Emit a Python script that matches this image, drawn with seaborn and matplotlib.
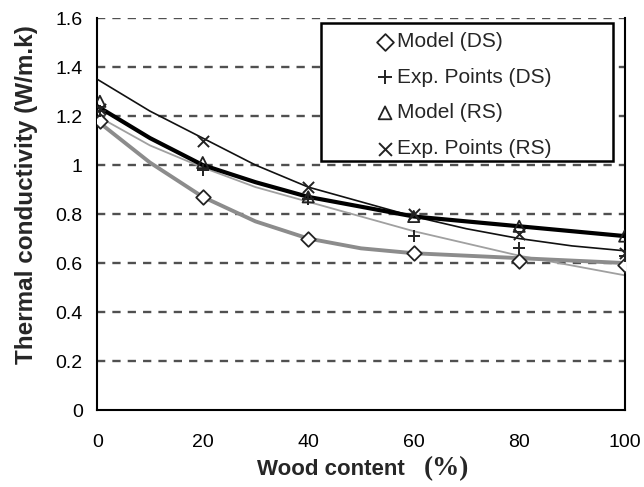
import matplotlib
matplotlib.use("Agg")
import matplotlib.pyplot as plt
import seaborn as sns
import pandas as pd
from matplotlib.ticker import MultipleLocator
from matplotlib.patches import Rectangle

# ---- data ----
pts_x = [0.5, 20, 40, 60, 80, 100]
model_ds_pts = [1.18, 0.87, 0.70, 0.64, 0.61, 0.59]
exp_ds_pts = [1.22, 0.98, 0.86, 0.71, 0.66, 0.63]
model_rs_pts = [1.26, 1.01, 0.87, 0.79, 0.75, 0.71]
exp_rs_pts = [1.23, 1.10, 0.91, 0.80, 0.72, 0.64]

curve_x = [0, 10, 20, 30, 40, 50, 60, 70, 80, 90, 100]
model_ds_curve = [1.18, 1.01, 0.87, 0.77, 0.70, 0.66, 0.64, 0.63, 0.62, 0.61, 0.60]
model_rs_curve = [1.24, 1.11, 1.00, 0.93, 0.87, 0.83, 0.79, 0.77, 0.75, 0.73, 0.71]
trend_rs_curve = [1.35, 1.22, 1.11, 1.00, 0.91, 0.85, 0.79, 0.74, 0.70, 0.67, 0.65]
trend_ds_curve = [1.20, 1.08, 0.99, 0.91, 0.85, 0.79, 0.73, 0.68, 0.63, 0.59, 0.55]

legend_labels = ["Model (DS)", "Exp. Points (DS)", "Model (RS)", "Exp. Points (RS)"]
yticks = [0, 0.2, 0.4, 0.6, 0.8, 1, 1.2, 1.4, 1.6]
ytick_labels = ["0", "0.2", "0.4", "0.6", "0.8", "1", "1.2", "1.4", "1.6"]
xticks = [0, 20, 40, 60, 80, 100]

sns.set_style("white")
plt.rcParams["font.family"] = ["Liberation Sans", "DejaVu Sans"]

fig = plt.figure(figsize=(6.44, 4.87), dpi=100)
ax = fig.add_axes([0.151, 0.158, 0.819, 0.805])

# grid
for y in yticks[1:]:
    ax.axhline(y, color="#505050", lw=1.7, ls=(0, (3.5, 3)), zorder=0)

curves = pd.DataFrame({"x": curve_x, "mds": model_ds_curve, "mrs": model_rs_curve,
                       "trs": trend_rs_curve, "tds": trend_ds_curve})
sns.lineplot(data=curves, x="x", y="tds", ax=ax, color="#a0a0a0", lw=1.3, zorder=2)
sns.lineplot(data=curves, x="x", y="mds", ax=ax, color="#8c8c8c", lw=2.8, zorder=2)
sns.lineplot(data=curves, x="x", y="trs", ax=ax, color="#111111", lw=1.2, zorder=3)
sns.lineplot(data=curves, x="x", y="mrs", ax=ax, color="#000000", lw=3.0, zorder=3)

pts = pd.DataFrame({"x": pts_x, "mds": model_ds_pts, "eds": exp_ds_pts,
                    "mrs": model_rs_pts, "ers": exp_rs_pts})
sns.scatterplot(data=pts, x="x", y="mds", ax=ax, marker="D", s=55, facecolor="white",
                edgecolor="#222222", linewidth=1.3, zorder=5, label=legend_labels[0])
sns.scatterplot(data=pts, x="x", y="eds", ax=ax, marker="+", s=80, color="#222222",
                linewidth=1.4, zorder=5, label=legend_labels[1])
sns.scatterplot(data=pts, x="x", y="mrs", ax=ax, marker="^", s=65, facecolor="none",
                edgecolor="#222222", linewidth=1.3, zorder=5, label=legend_labels[2])
sns.scatterplot(data=pts, x="x", y="ers", ax=ax, marker="x", s=65, color="#222222",
                linewidth=1.4, zorder=5, label=legend_labels[3])

ax.set_xlim(0, 100)
ax.set_ylim(0, 1.6)
ax.set_xticks(xticks)
ax.set_xticklabels([str(v) for v in xticks])
ax.xaxis.set_minor_locator(MultipleLocator(10))
ax.set_yticks(yticks)
ax.set_yticklabels(ytick_labels)
ax.yaxis.set_minor_locator(MultipleLocator(0.04))
ax.tick_params(axis="both", which="major", direction="inout", length=9, width=1.3,
               labelsize=14, colors="black", pad=6)
ax.tick_params(axis="both", which="minor", direction="inout", length=6, width=1.2)
ax.tick_params(axis="x", which="major", pad=13)
ax.spines["top"].set_visible(False)
for s in ["left", "bottom", "right"]:
    ax.spines[s].set_visible(True)
    ax.spines[s].set_color("black")
    ax.spines[s].set_linewidth(1.5)

ax.set_xlabel("")
ax.set_ylabel("Thermal conductivity (W/m.k)", fontsize=17.5, fontweight="bold")
ax.yaxis.set_label_coords(-0.112, 0.55)

fig.text(0.629, 0.035, "Wood content", fontsize=16, fontweight="bold", ha="right", va="center")
fig.text(0.658, 0.038, "(%)", fontsize=19.5, fontweight="bold", ha="left", va="center",
         family=["Liberation Serif", "DejaVu Serif"])

# legend box (frame drawn separately, larger than its content as in the reference)
box = Rectangle((0.424, 0.635), 0.553, 0.352, transform=ax.transAxes, facecolor="white",
                edgecolor="black", lw=1.8, zorder=9)
ax.add_patch(box)
leg = ax.legend(loc="upper left", bbox_to_anchor=(0.522, 0.975), fontsize=15,
                frameon=False, borderpad=0.2, labelspacing=0.8,
                handletextpad=0.15, handlelength=0.8, borderaxespad=0,
                markerscale=1.15)
leg.set_zorder(10)

fig.savefig("out.png", dpi=100)
